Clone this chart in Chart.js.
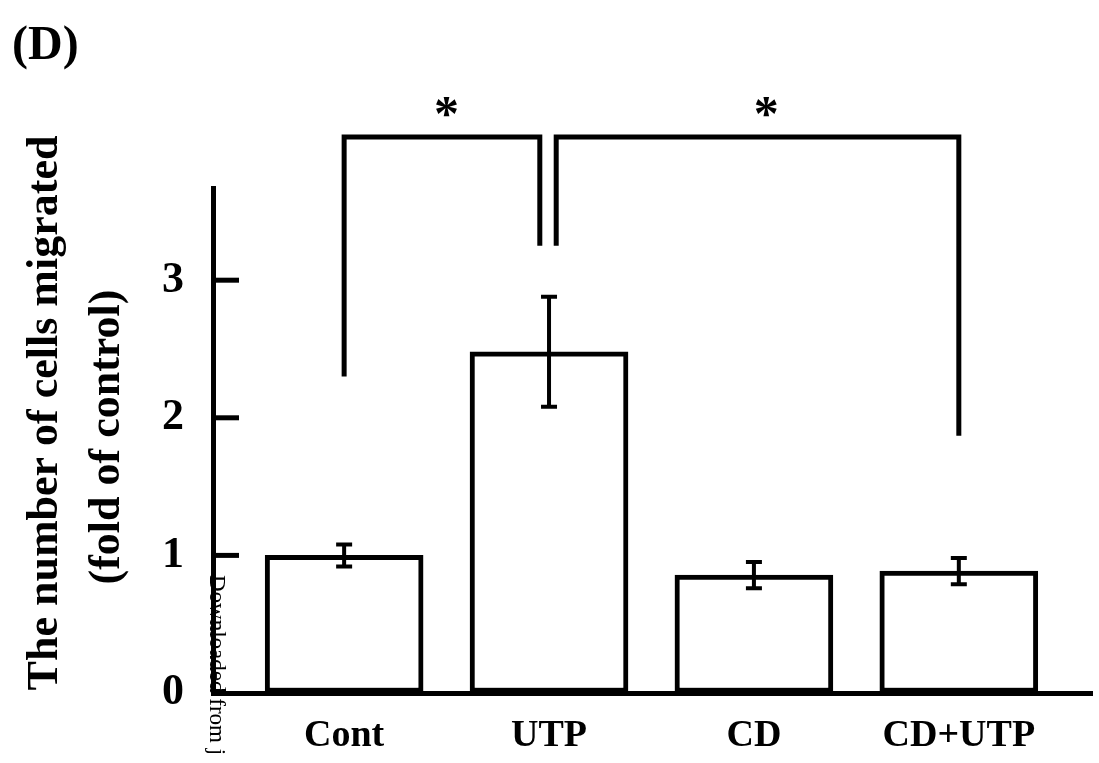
<!DOCTYPE html>
<html>
<head>
<meta charset="utf-8">
<script src="https://cdn.jsdelivr.net/npm/chart.js@4/dist/chart.umd.min.js"></script>
<style>
  html,body{margin:0;padding:0;background:#fff}
  canvas{display:block}
</style>
</head>
<body>
<canvas id="c" width="1099" height="763"></canvas>
<script>
// data (fold of control)
const categories = ['Cont', 'UTP', 'CD', 'CD+UTP'];
const means = [1.0, 2.48, 0.857, 0.886];
const errors = [0.08, 0.40, 0.095, 0.095];
const yTicks = [0, 1, 2, 3];

// significance brackets: legs in category units, heights in y units
const sigLeftX = [0, 0.955 + 0.08];
const sigRightX = [0.955, 3];
const sigLeftLow = [2.30, 3.25];
const sigRightLow = [3.25, 1.87];
const sigTop = [4.04, 4.04];
const sigStarX = [0.5, 2.06];
const sigStarY = [4.09, 4.09];

const SERIF = '"Liberation Serif","DejaVu Serif",serif';

const overlay = {
  id: 'overlay',
  afterDatasetsDraw(chart) {
    const {ctx, scales: {x, y}} = chart;
    ctx.save();
    ctx.strokeStyle = '#000';
    ctx.fillStyle = '#000';

    // inward tick marks on the y axis
    ctx.lineWidth = 5;
    yTicks.forEach(v => {
      if (v === 0) return;
      const py = y.getPixelForValue(v);
      ctx.beginPath(); ctx.moveTo(x.left, py); ctx.lineTo(x.left + 26, py); ctx.stroke();
    });

    // error bars
    ctx.lineWidth = 4;
    means.forEach((m, i) => {
      const px = x.getPixelForValue(i);
      const top = y.getPixelForValue(m + errors[i]);
      const bot = y.getPixelForValue(m - errors[i]);
      ctx.beginPath();
      ctx.moveTo(px, top); ctx.lineTo(px, bot);
      ctx.moveTo(px - 8, top); ctx.lineTo(px + 8, top);
      ctx.moveTo(px - 8, bot); ctx.lineTo(px + 8, bot);
      ctx.stroke();
    });

    // brackets + stars
    ctx.lineWidth = 5;
    ctx.lineJoin = 'miter';
    sigLeftX.forEach((lx, i) => {
      const x1 = x.getPixelForValue(lx), x2 = x.getPixelForValue(sigRightX[i]);
      const yt = y.getPixelForValue(sigTop[i]);
      ctx.beginPath();
      ctx.moveTo(x1, y.getPixelForValue(sigLeftLow[i]));
      ctx.lineTo(x1, yt);
      ctx.lineTo(x2, yt);
      ctx.lineTo(x2, y.getPixelForValue(sigRightLow[i]));
      ctx.stroke();
    });
    ctx.font = 'bold 50px ' + SERIF;
    ctx.textAlign = 'center';
    ctx.textBaseline = 'alphabetic';
    sigStarX.forEach((sx, i) => {
      ctx.fillText('*', x.getPixelForValue(sx), y.getPixelForValue(sigStarY[i]));
    });
    ctx.restore();
  },
  afterDraw(chart) {
    const {ctx} = chart;
    ctx.save();
    ctx.fillStyle = '#000';
    // panel letter
    ctx.font = 'bold 48px ' + SERIF;
    ctx.textAlign = 'left';
    ctx.textBaseline = 'middle';
    ctx.fillText('(D)', 12, 47);

    // y title, two lines
    ctx.font = 'bold 44px ' + SERIF;
    ctx.textAlign = 'center';
    ctx.save(); ctx.translate(46, 413); ctx.rotate(-Math.PI / 2);
    ctx.fillText('The number of cells migrated', 0, 0); ctx.restore();
    ctx.save(); ctx.translate(108, 437); ctx.rotate(-Math.PI / 2);
    ctx.fillText('(fold of control)', 0, 0); ctx.restore();

    // watermark from the scan
    ctx.font = '23px ' + SERIF;
    ctx.textAlign = 'left';
    ctx.save(); ctx.translate(216, 575); ctx.rotate(Math.PI / 2);
    ctx.fillText('Downloaded from j', 0, 0); ctx.restore();
    ctx.restore();
  }
};

new Chart(document.getElementById('c'), {
  type: 'bar',
  data: {
    datasets: [{
      data: means.map((v, i) => ({x: i, y: v})),
      backgroundColor: '#fff',
      borderColor: '#000',
      borderWidth: 5,
      borderSkipped: false,
      barThickness: 158
    }]
  },
  options: {
    responsive: false,
    animation: false,
    layout: {padding: {left: 0, top: 188, right: 7, bottom: 0}},
    plugins: {legend: {display: false}, tooltip: {enabled: false}},
    scales: {
      x: {
        type: 'linear', min: -0.64, max: 3.65, offset: false,
        afterBuildTicks: s => { s.ticks = categories.map((c, i) => ({value: i})); },
        afterFit: s => { s.height = 70; },
        ticks: {
          callback: v => categories[v],
          color: '#000', padding: 20, autoSkip: false, maxRotation: 0,
          font: {family: SERIF, size: 38, weight: 'bold'}
        },
        grid: {drawOnChartArea: false, drawTicks: false, offset: false},
        border: {color: '#000', width: 5}
      },
      y: {
        min: 0, max: 3.67,
        afterBuildTicks: s => { s.ticks = yTicks.map(v => ({value: v})); },
        afterFit: s => { s.width = 213; },
        ticks: {
          color: '#000', padding: 29,
          font: {family: SERIF, size: 44, weight: 'bold'}
        },
        grid: {drawOnChartArea: false, drawTicks: false},
        border: {color: '#000', width: 5}
      }
    }
  },
  plugins: [overlay]
});
</script>
</body>
</html>
